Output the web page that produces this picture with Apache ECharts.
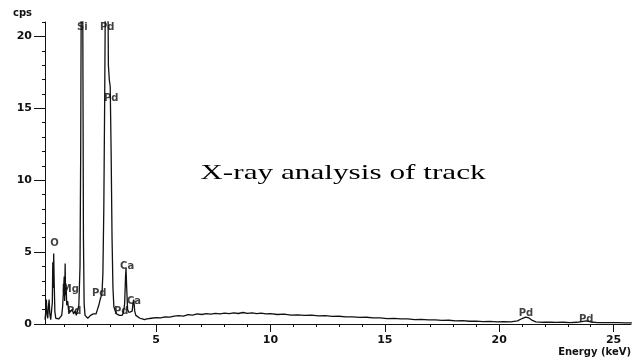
<!DOCTYPE html>
<html>
<head>
<meta charset="utf-8">
<script src="https://cdn.jsdelivr.net/npm/echarts@6/dist/echarts.min.js"></script>
<style>
  html, body { margin: 0; padding: 0; background: #fff; }
  #chart { width: 634px; height: 360px; }
</style>
</head>
<body>
<div id="chart"></div>
<script>
// low energy part, [keV, cps] (peaks above 21 get clipped)
var peakRegion = [
    [0.15, 0.3], [0.18, 0.8], [0.21, 1.7], [0.24, 0.6], [0.27, 0.4], [0.30, 1.2],
    [0.33, 1.7], [0.36, 0.7], [0.40, 0.3], [0.44, 0.4], [0.47, 1.5], [0.49, 4.3],
    [0.51, 2.5], [0.53, 4.9], [0.55, 3.0], [0.58, 0.9], [0.62, 0.4], [0.68, 0.3],
    [0.75, 0.35], [0.82, 0.4], [0.88, 0.6], [0.92, 1.2], [0.96, 2.4], [0.99, 3.3],
    [1.01, 1.6], [1.03, 4.2], [1.05, 2.0], [1.07, 2.8], [1.10, 1.3], [1.14, 1.6],
    [1.18, 1.0], [1.22, 0.8], [1.28, 0.7], [1.34, 1.0], [1.40, 0.7], [1.46, 0.9],
    [1.52, 0.6], [1.58, 0.7], [1.63, 1.3], [1.68, 4.0], [1.71, 12], [1.74, 26],
    [1.77, 30], [1.80, 22], [1.83, 6], [1.86, 1.4], [1.90, 0.6], [1.96, 0.5],
    [2.02, 0.4], [2.08, 0.45], [2.14, 0.6], [2.20, 0.5], [2.26, 0.7], [2.32, 0.8],
    [2.38, 0.7], [2.44, 1.0], [2.50, 1.3], [2.56, 1.7], [2.60, 1.9], [2.64, 2.1],
    [2.68, 3.5], [2.72, 8], [2.76, 16], [2.80, 26], [2.84, 32], [2.88, 28],
    [2.92, 18], [2.96, 17], [3.00, 16.5], [3.04, 12], [3.08, 6], [3.12, 2.5],
    [3.16, 1.2], [3.22, 0.9], [3.28, 0.7], [3.34, 0.8], [3.40, 0.6], [3.46, 0.7],
    [3.52, 0.6], [3.58, 0.8], [3.63, 1.4], [3.67, 3.3], [3.69, 3.9], [3.72, 2.5],
    [3.76, 1.0], [3.82, 0.8], [3.90, 0.7], [3.96, 0.9], [4.00, 1.5], [4.03, 1.7],
    [4.07, 0.9], [4.12, 0.6], [4.20, 0.5], [4.30, 0.4], [4.40, 0.35], [4.50, 0.3]
];

// bremsstrahlung background + Pd K lines
var continuum = [
    [4.6, 0.35], [4.8, 0.4], [5.0, 0.45], [5.2, 0.42], [5.4, 0.5], [5.6, 0.48],
    [5.8, 0.55], [6.0, 0.58], [6.2, 0.55], [6.4, 0.65], [6.6, 0.62], [6.8, 0.7],
    [7.0, 0.66], [7.2, 0.72], [7.4, 0.68], [7.6, 0.74], [7.8, 0.7], [8.0, 0.76],
    [8.2, 0.72], [8.4, 0.78], [8.6, 0.73], [8.8, 0.8], [9.0, 0.74], [9.2, 0.78],
    [9.4, 0.72], [9.6, 0.75], [9.8, 0.7], [10.0, 0.72], [10.3, 0.66], [10.6, 0.68],
    [10.9, 0.62], [11.2, 0.64], [11.5, 0.6], [11.8, 0.61], [12.1, 0.56], [12.4, 0.58],
    [12.7, 0.53], [13.0, 0.54], [13.3, 0.5], [13.6, 0.5], [13.9, 0.46], [14.2, 0.47],
    [14.5, 0.42], [14.8, 0.42], [15.1, 0.38], [15.4, 0.39], [15.7, 0.35], [16.0, 0.35],
    [16.3, 0.31], [16.6, 0.32], [16.9, 0.28], [17.2, 0.29], [17.5, 0.25], [17.8, 0.26],
    [18.1, 0.22], [18.4, 0.23], [18.7, 0.19], [19.0, 0.2], [19.3, 0.17], [19.6, 0.18],
    [19.9, 0.15], [20.2, 0.16], [20.5, 0.15], [20.8, 0.22], [21.0, 0.38], [21.15, 0.48],
    [21.3, 0.42], [21.45, 0.25], [21.6, 0.15], [21.9, 0.12], [22.2, 0.13], [22.5, 0.11],
    [22.8, 0.12], [23.1, 0.1], [23.4, 0.12], [23.6, 0.16], [23.8, 0.22], [24.0, 0.14],
    [24.3, 0.1], [24.6, 0.1], [24.9, 0.09], [25.2, 0.09], [25.5, 0.08], [25.8, 0.08]
];

// element labels and where they sit
var peakNames = ["Si", "Pd", "Pd", "O", "Mg", "Pd", "Pd", "Ca", "Ca", "Pd", "Pd", "Pd"];
var peakEnergy = [1.78, 2.87, 3.04, 0.57, 1.26, 1.43, 2.52, 3.74, 4.04, 3.48, 21.17, 23.8];
var peakCps = [20.6, 20.6, 15.7, 5.6, 2.4, 0.85, 2.1, 4.0, 1.55, 0.85, 0.75, 0.35];

var xMajorTicks = [5, 10, 15, 20, 25];
var xMinorTicks = [1, 2, 3, 4, 6, 7, 8, 9, 11, 12, 13, 14, 16, 17, 18, 19, 21, 22, 23, 24];
var yMajorTicks = [0, 5, 10, 15, 20];
var yMinorTicks = [1, 2, 3, 4, 6, 7, 8, 9, 11, 12, 13, 14, 16, 17, 18, 19, 21];

var sans = "DejaVu Sans";

var chart = echarts.init(document.getElementById("chart"));

var labelData = peakNames.map(function(n, i) {
    return { name: n, value: [peakEnergy[i], peakCps[i]] };
});

var option = {
    animation: false,
    backgroundColor: "#fff",
    grid: { left: 45, right: 0, top: 22, bottom: 36 },
    xAxis: [
        {
            type: "value",
            min: 0.15,
            max: 25.76,
            name: "Energy (keV)",
            nameLocation: "end",
            nameGap: 0,
            nameTextStyle: {
                fontFamily: sans, fontWeight: "bold", fontSize: 10, color: "#111",
                align: "right", verticalAlign: "top", padding: [23, 0, 0, 0]
            },
            axisLine: { onZero: false, lineStyle: { color: "#111", width: 1 } },
            axisTick: { customValues: xMajorTicks, length: 8, lineStyle: { color: "#111" } },
            axisLabel: {
                customValues: xMajorTicks, margin: 11,
                fontFamily: sans, fontWeight: "bold", fontSize: 11, color: "#111"
            },
            splitLine: { show: false }
        },
        {
            type: "value",
            min: 0.15,
            max: 25.76,
            position: "bottom",
            axisLine: { show: false },
            axisTick: { customValues: xMinorTicks, length: 3, lineStyle: { color: "#111" } },
            axisLabel: { show: false },
            splitLine: { show: false }
        }
    ],
    yAxis: [
        {
            type: "value",
            min: 0,
            max: 21,
            name: "cps",
            nameLocation: "end",
            nameGap: 4,
            nameTextStyle: {
                fontFamily: sans, fontWeight: "bold", fontSize: 10, color: "#111",
                align: "right", padding: [0, 13, 0, 0]
            },
            axisLine: { show: true, onZero: false, lineStyle: { color: "#111", width: 1 } },
            axisTick: { customValues: yMajorTicks, length: 11, lineStyle: { color: "#111" } },
            axisLabel: {
                customValues: yMajorTicks, margin: 13,
                fontFamily: sans, fontWeight: "bold", fontSize: 11, color: "#111"
            },
            splitLine: { show: false }
        },
        {
            type: "value",
            min: 0,
            max: 21,
            position: "left",
            axisLine: { show: false },
            axisTick: { customValues: yMinorTicks, length: 3, lineStyle: { color: "#111" } },
            axisLabel: { show: false },
            splitLine: { show: false }
        }
    ],
    graphic: [
        {
            type: "text",
            x: 343,
            y: 173,
            scaleX: 1.42,
            style: {
                text: "X-ray analysis of track",
                font: "22px 'Liberation Serif'",
                fill: "#000",
                textAlign: "center",
                textVerticalAlign: "middle"
            }
        }
    ],
    series: [
        {
            name: "spectrum",
            type: "line",
            data: peakRegion.concat(continuum),
            symbol: "none",
            clip: true,
            lineStyle: { color: "#111", width: 1.3 }
        },
        {
            name: "labels",
            type: "scatter",
            data: labelData,
            symbolSize: 0,
            silent: true,
            label: {
                show: true,
                position: "inside",
                formatter: "{b}",
                fontFamily: sans,
                fontWeight: "bold",
                fontSize: 10,
                color: "#111"
            }
        }
    ]
};

chart.setOption(option);
</script>
</body>
</html>
